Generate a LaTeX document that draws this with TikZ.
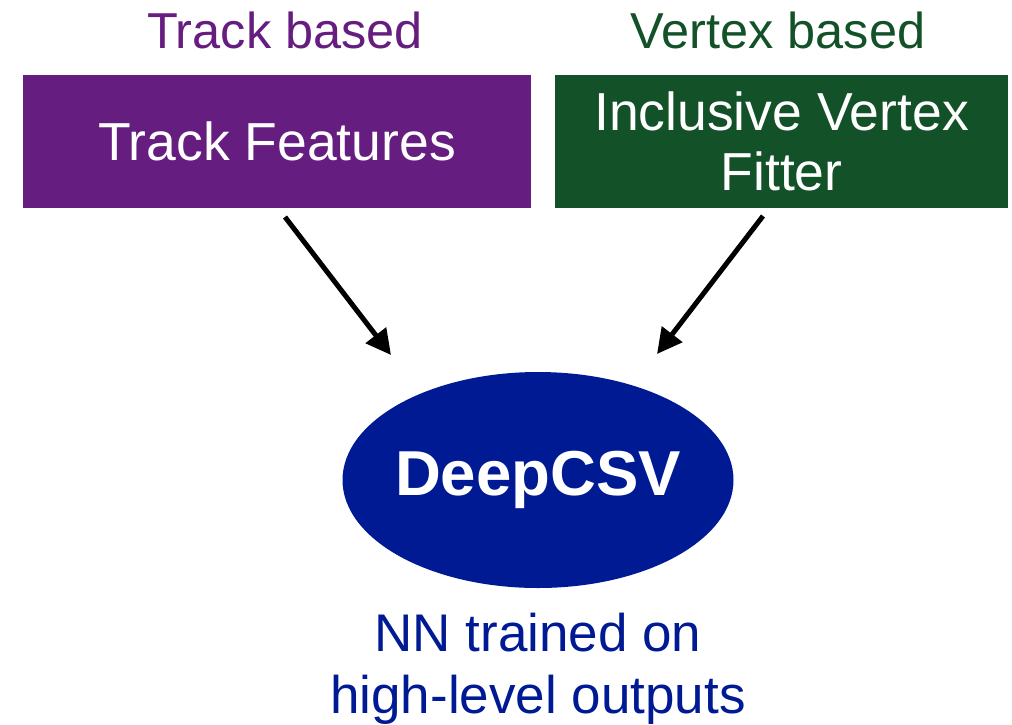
\documentclass[tikz,border=0pt]{standalone}
\usepackage{fontspec}
\setmainfont{Liberation Sans}
\usetikzlibrary{arrows.meta,shapes.geometric}
\definecolor{trackpurple}{RGB}{102,29,128}
\definecolor{vertexgreen}{RGB}{19,81,40}
\definecolor{nnblue}{RGB}{0,26,148}
\tikzset{
  boxfont/.style={font=\fontsize{53.5}{60}\selectfont},
  inputbox/.style={rectangle, inner sep=0pt, text=white, align=center, boxfont},
  heading/.style={anchor=base, inner sep=0pt, font=\fontsize{50.5}{58}\selectfont},
  feed/.style={line width=5pt, -{Triangle[length=25pt,width=25pt]}},
}
\begin{document}
\begin{tikzpicture}[x=1pt,y=-1pt]
  \useasboundingbox (0,0) rectangle (1012,724);

  % headings
  \node[heading, text=trackpurple] (trackhead) at (285,48) {Track based};
  \node[heading, text=vertexgreen] (vertexhead) at (778,48) {Vertex based};

  % input boxes
  \node[inputbox, fill=trackpurple, minimum width=508pt, minimum height=133pt]
    (track) at (277,141.5) {Track Features};
  \node[inputbox, fill=vertexgreen, minimum width=453pt, minimum height=133pt]
    (vertex) at (781.5,141.5) {Inclusive Vertex\\Fitter};

  % network (label given zero width so the ellipse keeps its set size)
  \node[ellipse, fill=nnblue, inner sep=0pt, minimum width=391pt, minimum height=216pt,
        text=white, font=\fontsize{63.5}{70}\selectfont\bfseries]
    (deep) at (538,480) {\makebox[0pt]{\raisebox{4pt}{DeepCSV}}};

  \node[text=nnblue, align=center, inner sep=0pt, font=\fontsize{53}{62}\selectfont]
    (caption) at (538,669) {NN trained on\\high-level outputs};

  % connectors
  \coordinate (trackout) at (285,217);
  \coordinate (deepinl) at (391,355);
  \coordinate (vertexout) at (763,216);
  \coordinate (deepinr) at (657,354);
  \draw[feed] (trackout) -- (deepinl);
  \draw[feed] (vertexout) -- (deepinr);
\end{tikzpicture}
\end{document}
